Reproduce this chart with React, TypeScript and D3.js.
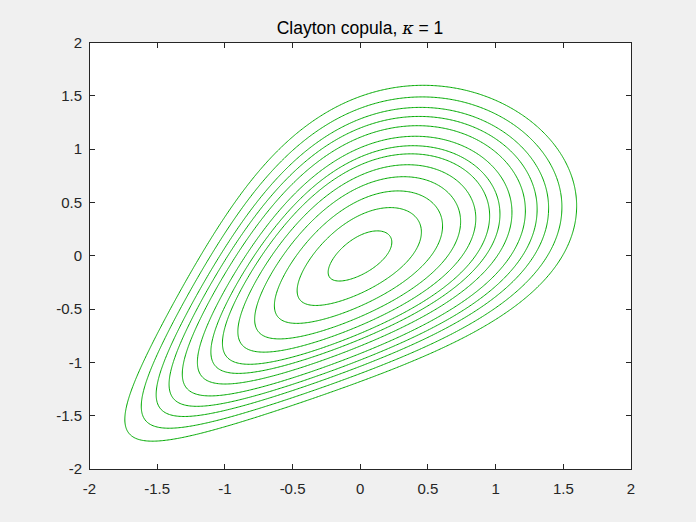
import React, { useMemo } from "react";
import * as d3 from "d3";

// Copula parameter shown in the title
const kappaValue = 1;
// Contour levels of the joint density (outer to inner)
const contourLevels = [0.0539, 0.0637, 0.0733, 0.0821, 0.0915, 0.1026, 0.1127, 0.1214, 0.1329, 0.145, 0.1582, 0.1713, 0.1839];
const xTicks = [-2, -1.5, -1, -0.5, 0, 0.5, 1, 1.5, 2];
const yTicks = [-2, -1.5, -1, -0.5, 0, 0.5, 1, 1.5, 2];
const xTickLabels = ["-2", "-1.5", "-1", "-0.5", "0", "0.5", "1", "1.5", "2"];
const yTickLabels = ["-2", "-1.5", "-1", "-0.5", "0", "0.5", "1", "1.5", "2"];

const W = 696;
const H = 522;
const L = 89.5, R = 631, T = 42.5, B = 469;

function erf(x: number) {
  const s = x < 0 ? -1 : 1;
  const a = Math.abs(x);
  const t = 1 / (1 + 0.3275911 * a);
  const y = 1 - (((((1.061405429 * t - 1.453152027) * t) + 1.421413741) * t - 0.284496736) * t + 0.254829592) * t * Math.exp(-a * a);
  return s * y;
}
const Phi = (x: number) => 0.5 * (1 + erf(x / Math.SQRT2));
const phi = (x: number) => Math.exp(-0.5 * x * x) / Math.sqrt(2 * Math.PI);

function density(x: number, y: number, th: number) {
  const u = Phi(x), v = Phi(y);
  const c = (1 + th) * Math.pow(u * v, -1 - th) * Math.pow(Math.pow(u, -th) + Math.pow(v, -th) - 1, -2 - 1 / th);
  return c * phi(x) * phi(y);
}

export default function App() {
  const xs = d3.scaleLinear().domain([-2, 2]).range([L, R]);
  const ys = d3.scaleLinear().domain([-2, 2]).range([B, T]);

  const paths = useMemo(() => {
    const N = 401;
    const h = 4 / (N - 1);
    const vals = new Array(N * N);
    for (let j = 0; j < N; j++) {
      const y = -2 + j * h;
      for (let i = 0; i < N; i++) {
        const x = -2 + i * h;
        vals[j * N + i] = density(x, y, kappaValue);
      }
    }
    const cs = d3.contours().size([N, N]).thresholds(contourLevels)(vals);
    const proj = d3.geoTransform({
      point(px: number, py: number) {
        (this as any).stream.point(xs(-2 + (px - 0.5) * h), ys(-2 + (py - 0.5) * h));
      },
    });
    const gp = d3.geoPath(proj);
    return cs.map((c) => gp(c as any) || "");
  }, []);

  const tickLen = 5.4;
  const axisColor = "#262626";
  const font = "'Liberation Sans', Arial, Helvetica, sans-serif";

  return (
    <svg width={W} height={H} style={{ position: "absolute", left: 0, top: 0, display: "block" }}>
      <rect x={0} y={0} width={W} height={H} fill="#f0f0f0" />
      <rect x={L} y={T} width={R - L} height={B - T} fill="#ffffff" />
      <g>
        {paths.map((d, i) => (
          <path key={i} d={d} fill="none" stroke="#00aa00" strokeWidth={1} />
        ))}
      </g>
      <g stroke={axisColor} strokeWidth={1} shapeRendering="crispEdges">
        <rect x={L} y={T} width={R - L} height={B - T} fill="none" />
        {xTicks.map((t, i) => (
          <g key={"xt" + i}>
            <line x1={xs(t)} x2={xs(t)} y1={B} y2={B - tickLen} />
            <line x1={xs(t)} x2={xs(t)} y1={T} y2={T + tickLen} />
          </g>
        ))}
        {yTicks.map((t, i) => (
          <g key={"yt" + i}>
            <line x1={L} x2={L + tickLen} y1={ys(t)} y2={ys(t)} />
            <line x1={R} x2={R - tickLen} y1={ys(t)} y2={ys(t)} />
          </g>
        ))}
      </g>
      <g fill={axisColor} fontFamily={font} fontSize={15}>
        {xTicks.map((t, i) => (
          <text key={"xl" + i} x={xs(t)} y={494} textAnchor="middle">
            {xTickLabels[i]}
          </text>
        ))}
        {yTicks.map((t, i) => (
          <text key={"yl" + i} x={82} y={ys(t) + 5.3} textAnchor="end">
            {yTickLabels[i]}
          </text>
        ))}
      </g>
      <text x={360} y={34} textAnchor="middle" fontFamily={font} fontSize={17.5} fill="#000">
        Clayton copula, <tspan fontStyle="italic" fontFamily="'DejaVu Serif', 'Liberation Serif', serif">κ</tspan> = {kappaValue}
      </text>
    </svg>
  );
}
